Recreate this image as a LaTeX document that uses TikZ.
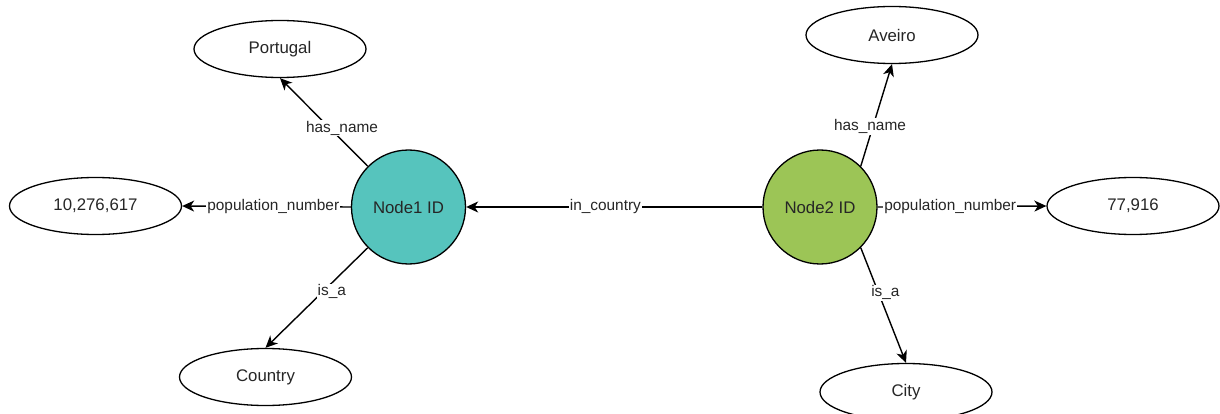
\documentclass[tikz,border=0pt]{standalone}
\usepackage{fontspec}
\setmainfont{Liberation Sans}
\usetikzlibrary{shapes.geometric,arrows.meta}
\definecolor{tealfill}{HTML}{56C4BD}
\definecolor{greenfill}{HTML}{9CC556}
\definecolor{txt}{HTML}{262626}
\tikzset{
  ent/.style={circle,draw=black,line width=1.3pt,minimum size=114pt,inner sep=0pt,
    text=txt,font=\fontsize{16.8}{20}\selectfont},
  val/.style={ellipse,draw=black,line width=1.3pt,fill=white,minimum width=172pt,minimum height=57pt,
    inner sep=0pt,text=txt,font=\fontsize{16.8}{20}\selectfont},
  rel/.style={line width=1.4pt,draw=black,-{Stealth[length=12pt,width=11pt,inset=3.5pt]}},
  lbl/.style={fill=white,inner sep=1pt,text=txt,font=\fontsize{15.4}{18}\selectfont},
}
\begin{document}
\begin{tikzpicture}[x=1pt,y=-1pt]
\useasboundingbox (0,0) rectangle (1220,414);
\node[ent,fill=tealfill] (n1) at (408.5,207) {Node1 ID};
\node[ent,fill=greenfill] (n2) at (820,207) {Node2 ID};
\node[val] (portugal) at (280,49) {Portugal};
\node[val] (pop1) at (95.5,206) {10,276,617};
\node[val] (country) at (265.5,377) {Country};
\node[val] (aveiro) at (892,35) {Aveiro};
\node[val] (pop2) at (1133,206) {77,916};
\node[val] (city) at (906,392) {City};

\draw[rel] (n1.135) -- node[lbl,pos=0.43,xshift=12pt]{has\_name} (portugal.south);
\draw[rel] (n1.west) -- node[lbl,pos=0.46]{population\_number} (pop1.east);
\draw[rel] (n1.225) -- node[lbl,pos=0.44,xshift=9pt]{is\_a} (country.north);
\draw[rel] (n2.west) -- node[lbl,pos=0.53]{in\_country} (n1.east);
\draw[rel] (n2.45) -- node[lbl,pos=0.39,xshift=-3pt]{has\_name} (aveiro.south);
\draw[rel] (n2.east) -- node[lbl,pos=0.43]{population\_number} (pop2.west);
\draw[rel] (n2.-45) -- node[lbl,pos=0.39,xshift=7pt]{is\_a} (city.north);
\end{tikzpicture}
\end{document}
